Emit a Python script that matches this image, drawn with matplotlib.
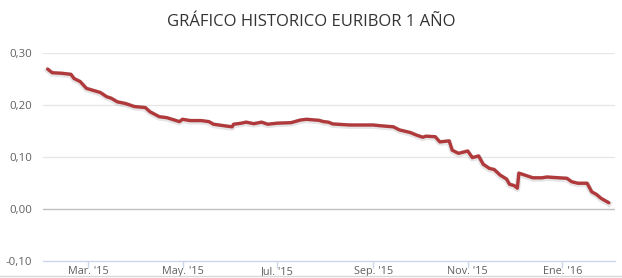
import matplotlib
matplotlib.use('Agg')
import matplotlib.pyplot as plt
import matplotlib.lines as mlines
import pandas as pd

# Euribor 1 year
dates = ['2015-02-03', '2015-02-06', '2015-02-12', '2015-02-18', '2015-02-20',
         '2015-02-24', '2015-02-28', '2015-03-05', '2015-03-09', '2015-03-13',
         '2015-03-16', '2015-03-20', '2015-03-25', '2015-03-31', '2015-04-07',
         '2015-04-10', '2015-04-16', '2015-04-21', '2015-04-29', '2015-05-01',
         '2015-05-06', '2015-05-13', '2015-05-18', '2015-05-21', '2015-05-28',
         '2015-06-02', '2015-06-03', '2015-06-08', '2015-06-11', '2015-06-16',
         '2015-06-21', '2015-06-25', '2015-07-01', '2015-07-10', '2015-07-16',
         '2015-07-20', '2015-07-28', '2015-07-31', '2015-08-03', '2015-08-06',
         '2015-08-17', '2015-09-01', '2015-09-06', '2015-09-14', '2015-09-18',
         '2015-09-25', '2015-09-29', '2015-10-03', '2015-10-05', '2015-10-11',
         '2015-10-14', '2015-10-20', '2015-10-22', '2015-10-26', '2015-11-01',
         '2015-11-04', '2015-11-08', '2015-11-11', '2015-11-15', '2015-11-18',
         '2015-11-22', '2015-11-26', '2015-11-28', '2015-12-01', '2015-12-03',
         '2015-12-04', '2015-12-08', '2015-12-13', '2015-12-19', '2015-12-22',
         '2016-01-04', '2016-01-07', '2016-01-11', '2016-01-17', '2016-01-20',
         '2016-01-23', '2016-01-26', '2016-01-31']
values = [0.269, 0.262, 0.261, 0.259, 0.251,
          0.245, 0.232, 0.2275, 0.224, 0.216,
          0.213, 0.206, 0.203, 0.197, 0.195,
          0.187, 0.1775, 0.1755, 0.168, 0.1725,
          0.170, 0.170, 0.168, 0.163, 0.160,
          0.158, 0.163, 0.165, 0.167, 0.164,
          0.167, 0.163, 0.165, 0.166, 0.171,
          0.1725, 0.1705, 0.168, 0.167, 0.1635,
          0.1615, 0.1615, 0.160, 0.158, 0.152,
          0.147, 0.142, 0.138, 0.140, 0.139,
          0.129, 0.131, 0.113, 0.107, 0.1115,
          0.0988, 0.102, 0.086, 0.078, 0.076,
          0.065, 0.0577, 0.0475, 0.045, 0.040,
          0.069, 0.065, 0.060, 0.060, 0.0615,
          0.059, 0.0525, 0.0495, 0.0495, 0.033,
          0.028, 0.0205, 0.012]

tick_dates = ['2015-03-01', '2015-05-01', '2015-07-01', '2015-09-01', '2015-11-01', '2016-01-01']
tick_labels = ["Mar. '15", "May. '15", "Jul. '15", "Sep. '15", "Nov. '15", "Ene. '16"]
y_ticks = [-0.10, 0.00, 0.10, 0.20, 0.30]
y_labels = ['-0,10', '0,00', '0,10', '0,20', '0,30']

plt.rcParams['font.family'] = ['Open Sans', 'DejaVu Sans']

x = pd.to_datetime(dates)
fig = plt.figure(figsize=(6.22, 2.78), dpi=100)
ax = fig.add_axes([43 / 622, 17 / 278, 572 / 622, 208 / 278])

# soft shadow then the line
ax.plot(x, [v - 0.002 for v in values], color='#000000', alpha=0.10, lw=4.2,
        solid_joinstyle='round', zorder=2)
ax.plot(x, values, color='#b0393b', lw=2.4, solid_joinstyle='round',
        solid_capstyle='round', zorder=3)

ax.set_xlim(pd.Timestamp('2015-01-31'), pd.Timestamp('2016-02-04'))
ax.set_ylim(-0.10, 0.30)

for yv in [0.10, 0.20, 0.30]:
    ax.axhline(yv, color='#e6e6e6', lw=0.9, zorder=1)
ax.axhline(0.0, color='#c0c0c0', lw=1.0, zorder=1)

for s in ['top', 'right', 'left']:
    ax.spines[s].set_visible(False)
ax.spines['bottom'].set_color('#ccd6eb')
ax.spines['bottom'].set_linewidth(1.0)

ax.set_yticks(y_ticks)
ax.set_yticklabels(y_labels)
ax.tick_params(axis='y', length=0, pad=8, labelsize=8.2, labelcolor='#606060')

ax.set_xticks(pd.to_datetime(tick_dates))
ax.set_xticklabels(tick_labels)
ax.tick_params(axis='x', length=5, width=1.0, color='#ccd6eb', pad=-1.5,
               labelsize=7.8, labelcolor='#606060')

fig.text(0.5, 1 - 22 / 278, 'GRÁFICO HISTORICO EURIBOR 1 AÑO', ha='center', va='center',
         fontsize=12, color='#333333')

fig.add_artist(mlines.Line2D([0, 1], [1 - 276 / 278] * 2, transform=fig.transFigure,
                             color='#d8d8d8', lw=1.0))

fig.savefig('out.png', dpi=100)
